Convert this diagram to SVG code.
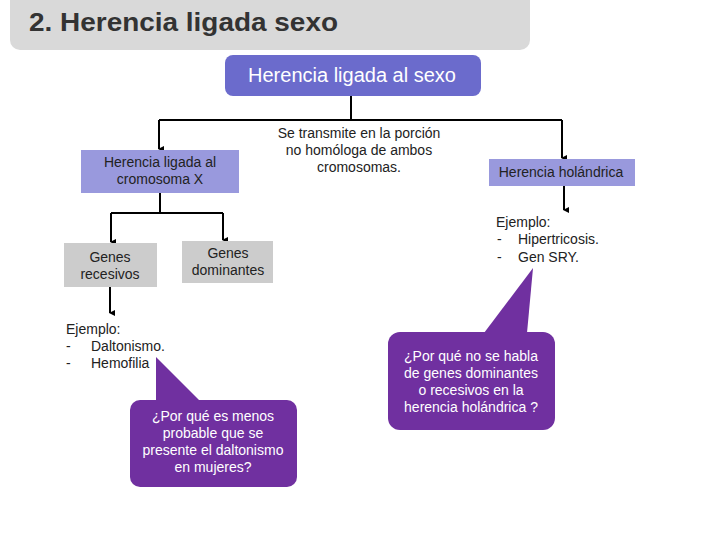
<svg xmlns="http://www.w3.org/2000/svg" width="720" height="540" viewBox="0 0 720 540">
<defs>
<marker id="arr" viewBox="0 0 6 6" refX="3" refY="5" markerWidth="6" markerHeight="6" markerUnits="userSpaceOnUse" orient="auto-start-reverse">
<path d="M0,0 L6,0 L3,6 Z" fill="#000"/>
</marker>
<style>
text{font-family:"Liberation Sans",Arial,sans-serif;}
.t{font-size:14px;fill:#222;}
.w{font-size:14px;fill:#fff;}
.c{text-anchor:middle;}
.ln{stroke:#000;stroke-width:2;fill:none;}
.call{fill:#7030a0;}
</style>
</defs>
<rect width="720" height="540" fill="#fff"/>
<g id="title">
<rect x="10" y="-12" width="520" height="62" rx="10" fill="#d9d9d9"/>
<text x="29" y="31" font-size="26" font-weight="bold" fill="#333" textLength="309" lengthAdjust="spacingAndGlyphs">2. Herencia ligada sexo</text>
</g>
<g id="connectors">
<path class="ln" d="M351,96 V120"/>
<path class="ln" d="M159,120 H562"/>
<path class="ln" d="M159,120 V149" marker-end="url(#arr)"/>
<path class="ln" d="M562,120 V158" marker-end="url(#arr)"/>
<path class="ln" d="M564,186 V210" marker-end="url(#arr)"/>
<path class="ln" d="M160,193 V213"/>
<path class="ln" d="M111,213 H223"/>
<path class="ln" d="M111,213 V242" marker-end="url(#arr)"/>
<path class="ln" d="M223,213 V240" marker-end="url(#arr)"/>
<path class="ln" d="M110,287 V313" marker-end="url(#arr)"/>
</g>
<g id="root">
<rect x="225" y="55" width="256" height="41" rx="8" fill="#6b6bcc"/>
<text x="352" y="82" font-size="20" fill="#fff" class="c">Herencia ligada al sexo</text>
</g>
<g id="note">
<text class="t c" x="359" y="138">Se transmite en la porción</text>
<text class="t c" x="359" y="155">no homóloga  de ambos</text>
<text class="t c" x="359" y="172">cromosomas.</text>
</g>
<g id="cromosomaX">
<rect x="81" y="150" width="158" height="43" fill="#9999dd"/>
<text class="t c" x="160" y="167">Herencia ligada al</text>
<text class="t c" x="160" y="184">cromosoma X</text>
</g>
<g id="holandrica">
<rect x="489" y="159" width="146" height="27" fill="#9999dd"/>
<text class="t c" x="561" y="177">Herencia holándrica</text>
</g>
<g id="ejemploR">
<text class="t" x="496" y="227">Ejemplo:</text>
<text class="t" x="497" y="244">-</text>
<text class="t" x="518" y="244">Hipertricosis.</text>
<text class="t" x="497" y="262">-</text>
<text class="t" x="518" y="262">Gen SRY.</text>
</g>
<g id="recesivos">
<rect x="64" y="243" width="93" height="44" fill="#cccccc"/>
<text class="t c" x="110" y="262">Genes</text>
<text class="t c" x="110" y="279">recesivos</text>
</g>
<g id="dominantes">
<rect x="182" y="241" width="91" height="42" fill="#cccccc"/>
<text class="t c" x="228" y="258">Genes</text>
<text class="t c" x="228" y="275">dominantes</text>
</g>
<g id="ejemploL">
<text class="t" x="66" y="334">Ejemplo:</text>
<text class="t" x="66" y="351">-</text>
<text class="t" x="91" y="351">Daltonismo.</text>
<text class="t" x="66" y="368">-</text>
<text class="t" x="91" y="368">Hemofilia</text>
</g>
<g id="calloutL">
<path class="call" d="M156,357 L156,401 L200,401 Z"/>
<rect class="call" x="130" y="400" width="167" height="87" rx="10"/>
<text class="w c" x="213" y="421">¿Por qué es menos</text>
<text class="w c" x="213" y="438">probable que se</text>
<text class="w c" x="213" y="455">presente el daltonismo</text>
<text class="w c" x="213" y="472">en mujeres?</text>
</g>
<g id="calloutR">
<path class="call" d="M533,268 L484,333 L527,333 Z"/>
<rect class="call" x="388" y="332" width="167" height="98" rx="12"/>
<text class="w c" x="471" y="361">¿Por qué no se habla</text>
<text class="w c" x="471" y="378">de genes dominantes</text>
<text class="w c" x="471" y="395">o recesivos en la</text>
<text class="w c" x="471" y="412">herencia holándrica ?</text>
</g>
</svg>
